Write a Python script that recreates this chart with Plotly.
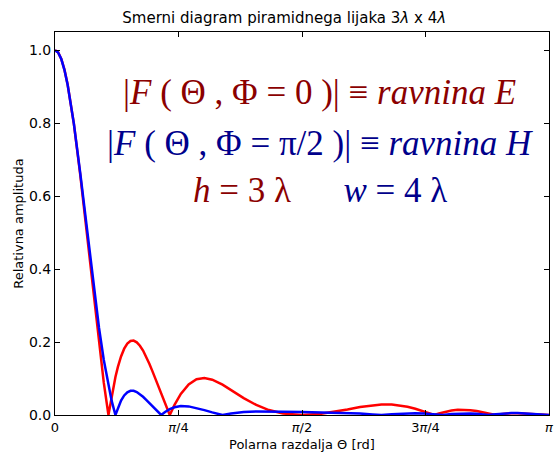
import math
import plotly.graph_objects as go

# Polar angle samples (rad) and relative amplitudes of the horn pattern
theta = [
    0.0, 0.02, 0.04, 0.06, 0.08, 0.10, 0.12, 0.16, 0.20, 0.24,
    0.28, 0.31, 0.3398, 0.36, 0.3844, 0.40, 0.42, 0.44, 0.46, 0.48,
    0.50, 0.52, 0.54, 0.56, 0.58, 0.60, 0.62, 0.65, 0.6751, 0.70,
    0.7297, 0.76, 0.80, 0.85, 0.90, 0.95, 1.00, 1.0654, 1.12, 1.20,
    1.28, 1.36, 1.45, 1.5708, 1.69, 1.78, 1.86, 1.94, 2.02, 2.0762,
    2.1416, 2.1916, 2.2416, 2.2916, 2.3416, 2.3816, 2.4119, 2.4416, 2.4665, 2.5216,
    2.5616, 2.6016, 2.6416, 2.6816, 2.7216, 2.7572, 2.7816, 2.8018, 2.8316, 2.8616,
    2.9016, 2.9416, 2.9816, 3.0216, 3.0616, 3.1416,
]

# E-plane (Phi = 0), aperture height h = 3 lambda
amp_e = [
    1.0, 0.9940, 0.9760, 0.9468, 0.9066, 0.8567, 0.7981, 0.6601, 0.5049, 0.3450,
    0.1926, 0.0894, 0.0, 0.0518, 0.1043, 0.1320, 0.1606, 0.1818, 0.1957, 0.2029,
    0.2039, 0.1993, 0.1900, 0.1766, 0.1599, 0.1407, 0.1196, 0.0862, 0.0578, 0.0305,
    0.0, 0.0277, 0.0577, 0.0839, 0.0979, 0.1013, 0.0968, 0.0831, 0.0684, 0.0463,
    0.0275, 0.0136, 0.0041, 0.0, 0.0032, 0.0089, 0.0152, 0.0217, 0.0269, 0.0289,
    0.0289, 0.0268, 0.0228, 0.0172, 0.0103, 0.0044, 0.0, 0.0041, 0.0071, 0.0123,
    0.0142, 0.0146, 0.0133, 0.0107, 0.0073, 0.0040, 0.0017, 0.0, 0.0022, 0.0038,
    0.0050, 0.0051, 0.0042, 0.0029, 0.0015, 0.0,
]

# H-plane (Phi = pi/2), aperture width w = 4 lambda
amp_h = [
    1.0, 0.9939, 0.9759, 0.9464, 0.9063, 0.8567, 0.7989, 0.6651, 0.5184, 0.3723,
    0.2385, 0.1517, 0.0795, 0.0393, 0.0, 0.0199, 0.0397, 0.0536, 0.0622, 0.0662,
    0.0662, 0.0630, 0.0574, 0.0500, 0.0415, 0.0323, 0.0231, 0.0099, 0.0, 0.0083,
    0.0159, 0.0211, 0.0244, 0.0236, 0.0194, 0.0134, 0.0071, 0.0, 0.0044, 0.0082,
    0.0096, 0.0097, 0.0090, 0.0079, 0.0071, 0.0063, 0.0053, 0.0038, 0.0017, 0.0,
    0.0021, 0.0035, 0.0045, 0.0048, 0.0044, 0.0034, 0.0023, 0.0011, 0.0, 0.0024,
    0.0037, 0.0044, 0.0043, 0.0034, 0.0018, 0.0, 0.0013, 0.0023, 0.0037, 0.0047,
    0.0054, 0.0052, 0.0043, 0.0029, 0.0015, 0.0,
]

x_tick_vals = [0, math.pi / 4, math.pi / 2, 3 * math.pi / 4, math.pi]
x_tick_text = ["0", "<i>π</i>/4", "<i>π</i>/2", "3<i>π</i>/4", "<i>π</i>"]
y_tick_vals = [0.0, 0.2, 0.4, 0.6, 0.8, 1.0]
y_tick_text = ["0.0", "0.2", "0.4", "0.6", "0.8", "1.0"]

RED_TXT = "#8b0000"
BLUE_TXT = "#00008b"
SANS = "DejaVu Sans"
SERIF = "Liberation Serif"

fig = go.Figure()
fig.add_trace(go.Scatter(x=theta, y=amp_e, mode="lines",
                         line=dict(color="#ff0000", width=2.5), name="E"))
fig.add_trace(go.Scatter(x=theta, y=amp_h, mode="lines",
                         line=dict(color="#0000ff", width=2.5), name="H"))

axis_common = dict(
    showgrid=False, zeroline=False, showline=True, linecolor="black",
    linewidth=1, mirror="ticks", ticks="inside", ticklen=5, tickwidth=1,
    tickcolor="black", ticklabeloverflow="allow",
)
fig.update_xaxes(range=[0, 3.14161], tickmode="array", tickvals=x_tick_vals,
                 ticktext=x_tick_text, ticklabelstandoff=0,
                 tickfont=dict(family=SANS, size=13, color="black"),
                 **axis_common)
fig.update_yaxes(range=[0, 1.05], tickmode="array", tickvals=y_tick_vals,
                 ticktext=y_tick_text,
                 tickfont=dict(family=SANS, size=14, color="black"),
                 **axis_common)

NB = "&nbsp;"
annotations = [
    dict(text=f"|<i>F</i>{NB}({NB}Θ{NB},{NB}Φ{NB}={NB}0{NB})|{NB}≡{NB}<i>ravnina{NB}E</i>",
         x=0.536, y=0.841, font=dict(family=SERIF, size=35, color=RED_TXT)),
    dict(text=f"|<i>F</i>{NB}({NB}Θ{NB},{NB}Φ{NB}={NB}π/2{NB})|{NB}≡{NB}<i>ravnina{NB}H</i>",
         x=0.536, y=0.710, font=dict(family=SERIF, size=35, color=BLUE_TXT)),
    dict(text=f"<span style='color:{RED_TXT}'><i>h</i>{NB}={NB}3{NB}λ</span>"
              f"{NB * 6}<span style='color:{BLUE_TXT}'><i>w</i>{NB}={NB}4{NB}λ</span>",
         x=0.536, y=0.587, font=dict(family=SERIF, size=35, color=RED_TXT)),
    dict(text="Polarna razdalja Θ [rd]", x=0.5, y=-0.076,
         font=dict(family=SANS, size=13, color="black")),
    dict(text="Relativna amplituda", x=-0.0743, y=0.5, textangle=-90,
         font=dict(family=SANS, size=13, color="black")),
]
for a in annotations:
    a.update(xref="paper", yref="paper", xanchor="center", yanchor="middle",
             showarrow=False)

fig.update_layout(
    width=557, height=453,
    margin=dict(l=55, r=4, t=32, b=38),
    paper_bgcolor="white", plot_bgcolor="white",
    showlegend=False,
    title=dict(text="Smerni diagram piramidnega lijaka 3<i>λ</i> x 4<i>λ</i>",
               x=0.464, xref="paper", xanchor="center",
               y=1 - 18 / 453, yref="container", yanchor="middle",
               font=dict(family=SANS, size=15, color="black")),
    annotations=annotations,
)

fig.write_html("out.html")
